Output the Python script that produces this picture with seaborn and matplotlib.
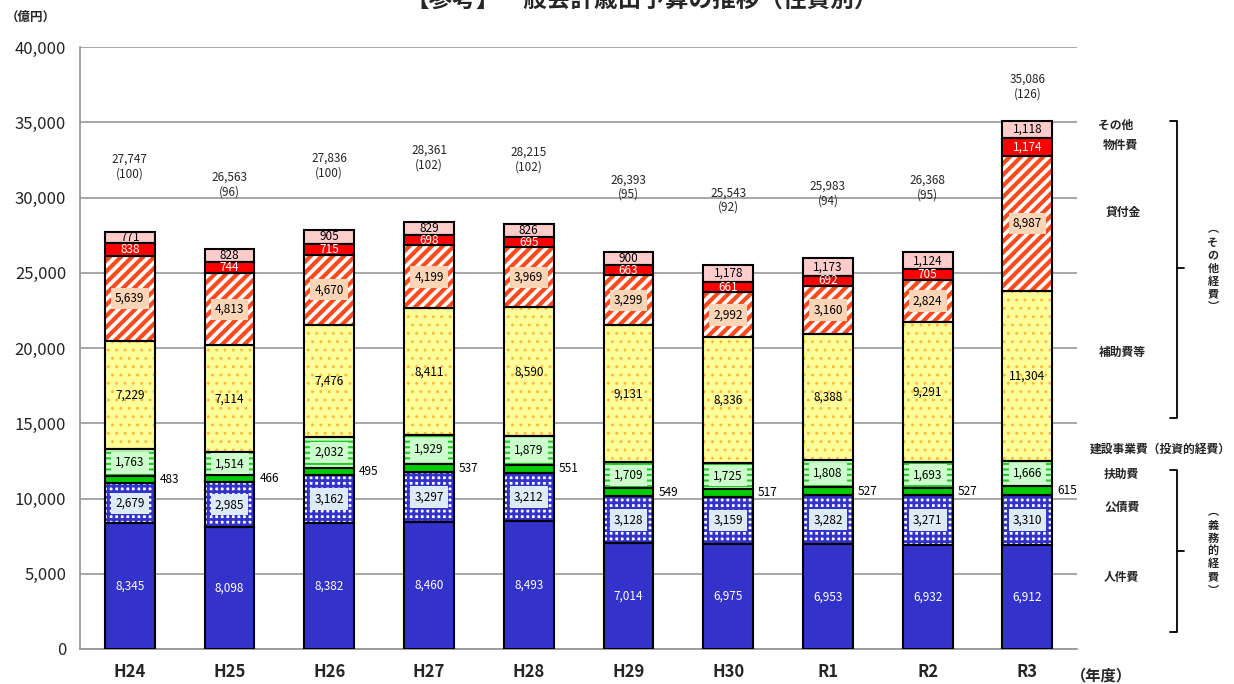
import matplotlib
matplotlib.use("Agg")
import matplotlib.pyplot as plt
import seaborn as sns
import numpy as np
import pandas as pd

sns.set_style("white")
plt.rcParams["font.family"] = ["Noto Sans CJK JP", "DejaVu Sans"]

years = ["H24", "H25", "H26", "H27", "H28", "H29", "H30", "R1", "R2", "R3"]
jinken = [8345, 8098, 8382, 8460, 8493, 7014, 6975, 6953, 6932, 6912]
kousai = [2679, 2985, 3162, 3297, 3212, 3128, 3159, 3282, 3271, 3310]
fujo = [483, 466, 495, 537, 551, 549, 517, 527, 527, 615]
kensetsu = [1763, 1514, 2032, 1929, 1879, 1709, 1725, 1808, 1693, 1666]
hojo = [7229, 7114, 7476, 8411, 8590, 9131, 8336, 8388, 9291, 11304]
kashitsuke = [5639, 4813, 4670, 4199, 3969, 3299, 2992, 3160, 2824, 8987]
bukken = [838, 744, 715, 698, 695, 663, 661, 692, 705, 1174]
sonota = [771, 828, 905, 829, 826, 900, 1178, 1173, 1124, 1118]
totals = [27747, 26563, 27836, 28361, 28215, 26393, 25543, 25983, 26368, 35086]
index_vals = [100, 96, 100, 102, 102, 95, 92, 94, 95, 126]

# layer: name, values, face, hatch, hatch colour, hatch width, text colour, label box colour
layers = [
    ("人件費", jinken, "#3333CC", None, None, 0, "white", None),
    ("公債費", kousai, "white", "+++", "#3333CC", 2.0, "black", "#DDEBF7"),
    ("扶助費", fujo, "#00CC00", None, None, 0, "black", "outside"),
    ("建設事業費", kensetsu, "#CCFFCC", "---", "#22CC22", 1.5, "black", "#CCFFCC"),
    ("補助費等", hojo, "#FFFF99", "..", "#FFB838", 0.9, "black", None),
    ("貸付金", kashitsuke, "white", "///", "#FF4A1E", 3.0, "black", "#FBD5B5"),
    ("物件費", bukken, "#FF0000", None, None, 0, "white", None),
    ("その他", sonota, "#FFCCCC", None, None, 0, "black", None),
]

fig = plt.figure(figsize=(12.34, 6.84), dpi=100)
ax = fig.add_axes([0.0648, 0.0512, 0.8082, 0.8798])

x = np.arange(len(years))
bottom = np.zeros(len(years))
w = 0.5
for name, vals, face, hatch, hcol, hlw, tcol, box in layers:
    vals = np.array(vals, dtype=float)
    df = pd.DataFrame({"year": years, "value": vals})
    if hatch:
        with plt.rc_context({"hatch.linewidth": hlw}):
            sns.barplot(data=df, x="year", y="value", bottom=bottom, color=face,
                        saturation=1, width=w, hatch=hatch, edgecolor=hcol,
                        linewidth=0, ax=ax, errorbar=None)
    else:
        sns.barplot(data=df, x="year", y="value", bottom=bottom, color=face,
                    saturation=1, width=w, linewidth=0, ax=ax, errorbar=None)
    # outline
    ax.bar(x, vals, w, bottom=bottom, fill=False, edgecolor="black", linewidth=1.5, zorder=3)
    for i, v in enumerate(vals):
        yc = bottom[i] + v / 2
        txt = f"{int(v):,}"
        if box == "outside":
            ax.text(i + w / 2 + 0.05, yc, txt, ha="left", va="center", fontsize=8.5,
                    color="black", zorder=5)
        elif box:
            ax.text(i, yc, txt, ha="center", va="center", fontsize=8.5, color=tcol, zorder=5,
                    bbox=dict(boxstyle="square,pad=0.35", fc=box, ec="none"))
        else:
            ax.text(i, yc, txt, ha="center", va="center", fontsize=8.5, color=tcol, zorder=5)
    bottom = bottom + vals

for i, (t, idx) in enumerate(zip(totals, index_vals)):
    ax.text(i, min(t + 4300, 37400), f"{t:,}\n({idx})", ha="center", va="center",
            fontsize=8.5, linespacing=1.15)

ax.set_xlim(-0.5, len(years) - 0.5)
ax.set_ylim(0, 40000)
ax.set_yticks(np.arange(0, 40001, 5000))
ax.set_yticklabels([f"{v:,}" for v in range(0, 40001, 5000)], fontsize=12)
ax.set_xticks(x)
ax.set_xticklabels(years, fontsize=12, fontweight="bold")
ax.set_xticks(np.arange(-0.5, len(years), 1), minor=True)
ax.tick_params(axis="x", which="major", length=0, pad=10)
ax.tick_params(axis="x", which="minor", length=6, color="#999999", width=1.2)
ax.tick_params(axis="y", length=6, color="#999999", width=1.2, pad=4)
ax.grid(axis="y", color="#A0A0A0", linewidth=1.3)
ax.set_axisbelow(True)
for s in ["top", "right"]:
    ax.spines[s].set_visible(False)
for s in ["left", "bottom"]:
    ax.spines[s].set_color("#999999")
    ax.spines[s].set_linewidth(1.3)
ax.set_xlabel("")
ax.set_ylabel("")

# title (clipped at top in reference)
fig.text(0.52, 1.0, "【参考】一般会計歳出予算の推移（性質別）", ha="center", va="center",
         fontsize=17, fontweight="bold")
fig.text(0.005, 0.975, "（億円）", ha="left", va="center", fontsize=9, fontweight="bold")
fig.text(0.868, 0.012, "（年度）", ha="left", va="center", fontsize=11, fontweight="bold")

# right side legend labels
def py(p):
    return 1 - p / 684

def px(p):
    return p / 1234

side = [("その他", 1098, 125), ("物件費", 1103, 145), ("貸付金", 1106, 212),
        ("補助費等", 1099, 352), ("扶助費", 1104, 474), ("公債費", 1104, 507),
        ("人件費", 1104, 578)]
for name, xp, yp in side:
    fig.text(px(xp), py(yp), name, ha="left", va="center", fontsize=8.5, fontweight="bold")
fig.text(px(1090), py(449), "建設事業費（投資的経費）", ha="left", va="center", fontsize=8.5,
         fontweight="bold")

def bracket(y0, y1, ym):
    xs = [px(1170), px(1177), px(1177), px(1170)]
    ys = [py(y0), py(y0), py(y1), py(y1)]
    fig.add_artist(plt.Line2D(xs, ys, color="black", linewidth=1.3))
    fig.add_artist(plt.Line2D([px(1177), px(1184)], [py(ym), py(ym)], color="black", linewidth=1.3))

bracket(121, 418, 268)
bracket(470, 632, 551)
fig.text(px(1213), py(268), "︵\nそ\nの\n他\n経\n費\n︶", ha="center", va="center",
         fontsize=8, fontweight="bold", linespacing=1.0)
fig.text(px(1213), py(551), "︵\n義\n務\n的\n経\n費\n︶", ha="center", va="center",
         fontsize=8, fontweight="bold", linespacing=1.0)

fig.savefig("out.png", dpi=100)
